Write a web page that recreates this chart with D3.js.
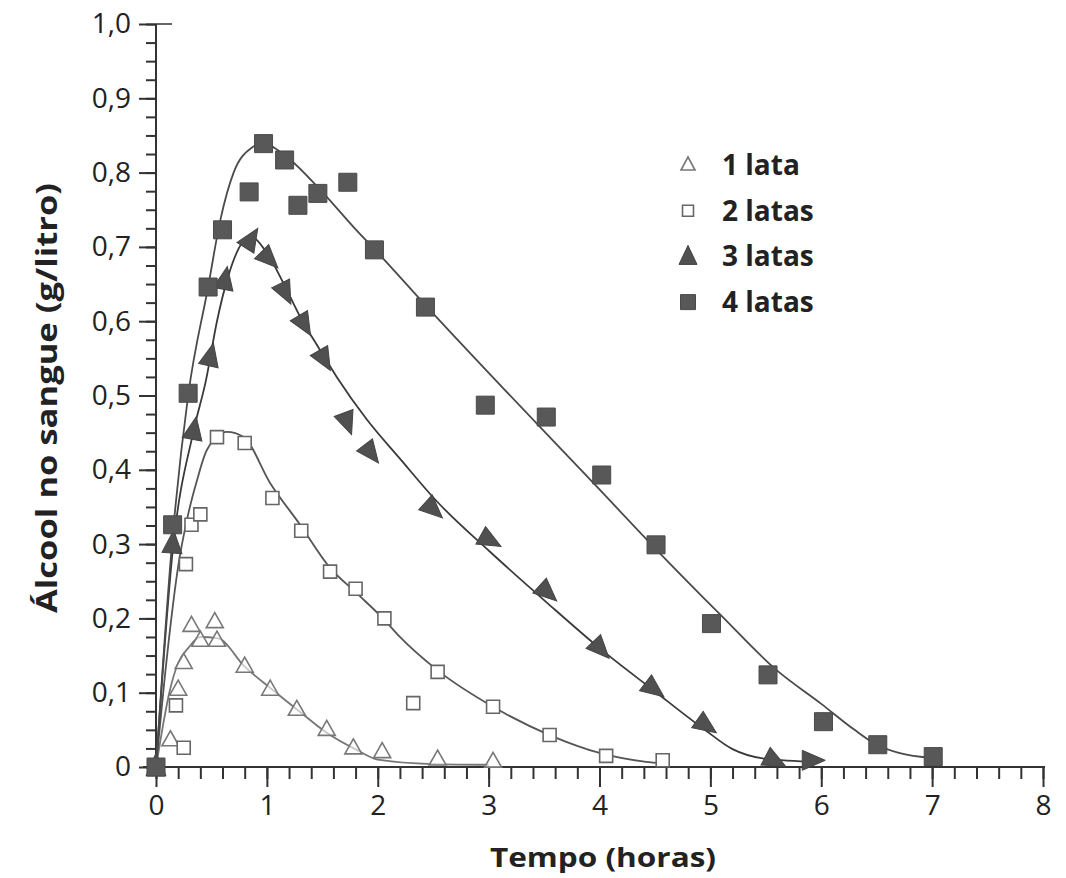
<!DOCTYPE html>
<html>
<head>
<meta charset="utf-8">
<script src="https://cdn.jsdelivr.net/npm/d3@7"></script>
<style>
  body { margin: 0; background: #fff; }
  svg text { font-family: "Open Sans", sans-serif; fill: #222; }
</style>
</head>
<body>
<svg id="grafico"></svg>
<script>
const WIDTH = 1066,
    HEIGHT = 878;

// pontos medidos [horas, g/litro]
const lata1Pontos = [[0,0],[0.13,0.036],[0.2,0.104],[0.25,0.14],[0.32,0.19],[0.4,0.17],[0.53,0.195],[0.55,0.17],[0.8,0.135],[1.03,0.104],[1.27,0.077],[1.54,0.05],[1.78,0.025],[2.04,0.02],[2.54,0.01],[3.04,0.007]];
const lata2Pontos = [[0,0],[0.25,0.026],[0.18,0.083],[0.27,0.273],[0.32,0.326],[0.4,0.34],[0.55,0.444],[0.8,0.436],[1.05,0.362],[1.31,0.318],[1.57,0.263],[1.8,0.24],[2.06,0.2],[2.32,0.086],[2.54,0.128],[3.04,0.081],[3.55,0.043],[4.06,0.015],[4.57,0.009]];
const lata3Pontos = [[0,0],[0.15,0.30],[0.34,0.453],[0.49,0.552],[0.62,0.655],[0.85,0.709],[1.01,0.685],[1.16,0.64],[1.33,0.597],[1.51,0.55],[1.72,0.465],[1.93,0.424],[2.49,0.348],[3.0,0.306],[3.52,0.236],[4.0,0.16],[4.48,0.106],[4.95,0.057],[5.57,0.009],[5.91,0.009]];
const lata4Pontos = [[0,0],[0.15,0.326],[0.29,0.503],[0.47,0.646],[0.6,0.723],[0.84,0.774],[0.97,0.839],[1.16,0.817],[1.28,0.756],[1.46,0.772],[1.73,0.787],[1.97,0.696],[2.43,0.619],[2.97,0.487],[3.52,0.471],[4.02,0.393],[4.51,0.299],[5.01,0.193],[5.52,0.124],[6.02,0.061],[6.51,0.03],[7.01,0.014]];

// curvas ajustadas
const lata1Curva = [[0,0],[0.05,0.045],[0.12,0.1],[0.2,0.14],[0.29,0.16],[0.4,0.175],[0.56,0.173],[0.8,0.135],[1.05,0.104],[1.3,0.074],[1.54,0.046],[1.81,0.023],[2.0,0.01],[2.5,0.004],[3.0,0.003]];
const lata2Curva = [[0,0],[0.1,0.15],[0.2,0.27],[0.29,0.34],[0.37,0.386],[0.46,0.427],[0.64,0.451],[0.79,0.444],[1.03,0.382],[1.3,0.326],[1.57,0.268],[1.81,0.234],[2.06,0.198],[2.2,0.175],[2.54,0.13],[3.04,0.081],[3.55,0.043],[4.0,0.019],[4.42,0.007],[4.57,0.005]];
const lata3Curva = [[0,0],[0.15,0.29],[0.34,0.453],[0.45,0.52],[0.55,0.6],[0.65,0.66],[0.85,0.714],[1.0,0.692],[1.15,0.651],[1.3,0.606],[1.48,0.561],[1.63,0.525],[1.9,0.468],[2.2,0.415],[2.53,0.358],[3.01,0.29],[3.52,0.222],[4.0,0.16],[4.48,0.104],[4.95,0.05],[5.2,0.024],[5.5,0.011],[5.96,0.007]];
const lata4Curva = [[0,0],[0.15,0.31],[0.29,0.5],[0.47,0.646],[0.58,0.736],[0.7,0.8],[0.86,0.833],[0.97,0.839],[1.18,0.821],[1.48,0.777],[1.78,0.727],[2.02,0.689],[2.44,0.62],[3.13,0.51],[3.94,0.383],[4.51,0.293],[5.09,0.205],[5.6,0.13],[6.0,0.085],[6.3,0.05],[6.5,0.03],[6.7,0.019],[7.01,0.012]];

const legendas = ["1 lata", "2 latas", "3 latas", "4 latas"];
const ticksX = [0, 1, 2, 3, 4, 5, 6, 7, 8];
const ticksY = [0, 0.1, 0.2, 0.3, 0.4, 0.5, 0.6, 0.7, 0.8, 0.9, 1.0];

const svg = d3.select("#grafico")
    .attr("width", WIDTH)
    .attr("height", HEIGHT);

const escalaX = d3.scaleLinear().domain([0, 8]).range([156, 1043]);
const escalaY = d3.scaleLinear().domain([0, 1]).range([767, 24]);

const corEixo = "#333";

// eixo X
const ejeXMenor = svg.append("g")
    .attr("transform", `translate(0 ${escalaY(0)})`)
    .call(d3.axisBottom(escalaX).tickValues(d3.range(0, 8.01, 0.2)).tickSize(12).tickFormat(""));
ejeXMenor.select(".domain").remove();

const ejeX = svg.append("g")
    .attr("transform", `translate(0 ${escalaY(0)})`)
    .call(d3.axisBottom(escalaX).tickValues(ticksX).tickSize(20).tickPadding(8).tickFormat(d3.format("d")));
ejeX.select(".domain").remove();
ejeX.selectAll("text").attr("font-size", 28).attr("font-family", "Open Sans");

svg.append("line")
    .attr("x1", 143).attr("x2", escalaX(8) + 2)
    .attr("y1", escalaY(0)).attr("y2", escalaY(0))
    .attr("stroke", corEixo).attr("stroke-width", 2);

// eixo Y
const ejeYMenor = svg.append("g")
    .attr("transform", `translate(${escalaX(0)} 0)`)
    .call(d3.axisLeft(escalaY).tickValues(d3.range(0, 1.001, 0.025)).tickSize(10).tickFormat(""));
ejeYMenor.select(".domain").remove();

const ejeY = svg.append("g")
    .attr("transform", `translate(${escalaX(0)} 0)`)
    .call(d3.axisLeft(escalaY).tickValues(ticksY).tickSize(17).tickPadding(8)
        .tickFormat(d => d === 0 ? "0" : d.toFixed(1).replace(".", ",")));
ejeY.select(".domain").remove();
ejeY.selectAll("text").attr("font-size", 28).attr("font-family", "Open Sans");

svg.append("line")
    .attr("x1", escalaX(0)).attr("x2", escalaX(0))
    .attr("y1", escalaY(0)).attr("y2", escalaY(1))
    .attr("stroke", corEixo).attr("stroke-width", 2);
svg.append("line")
    .attr("x1", escalaX(0)).attr("x2", escalaX(0) + 16)
    .attr("y1", escalaY(1)).attr("y2", escalaY(1))
    .attr("stroke", corEixo).attr("stroke-width", 1.5);

svg.selectAll(".tick line").attr("stroke", corEixo).attr("stroke-width", 2);

// titulos
svg.append("text")
    .attr("x", 603).attr("y", 867)
    .attr("text-anchor", "middle")
    .attr("font-size", 27).attr("font-weight", "bold")
    .attr("textLength", 226).attr("lengthAdjust", "spacingAndGlyphs")
    .text("Tempo (horas)");

svg.append("text")
    .attr("transform", "translate(57 398) rotate(-90)")
    .attr("text-anchor", "middle")
    .attr("font-size", 29).attr("font-weight", "bold")
    .attr("textLength", 430).attr("lengthAdjust", "spacingAndGlyphs")
    .text("Álcool no sangue (g/litro)");

// curvas
const linha = d3.line()
    .x(d => escalaX(d[0]))
    .y(d => escalaY(d[1]))
    .curve(d3.curveMonotoneX);

const contenedorCurvas = svg.append("g").attr("fill", "none");
[[lata1Curva, "#777"], [lata2Curva, "#555"], [lata3Curva, "#3a3a3a"], [lata4Curva, "#4a4a4a"]]
    .forEach(([curva, cor]) => {
        contenedorCurvas.append("path")
            .attr("d", linha(curva))
            .attr("stroke", cor)
            .attr("stroke-width", 1.8);
    });

// simbolos
const trianguloAberto = "M0,-9.5L8.5,5.5L-8.5,5.5Z";
const trianguloCheio = "M14,0L-9,-10L-9,10Z";
const quadrado = s => `M${-s/2},${-s/2}h${s}v${s}h${-s}Z`;

const contenedorPuntos = svg.append("g");

contenedorPuntos.selectAll(".l1")
    .data(lata1Pontos)
    .join("path")
    .attr("class", "l1")
    .attr("d", trianguloAberto)
    .attr("transform", d => `translate(${escalaX(d[0])} ${escalaY(d[1])})`)
    .attr("fill", "#fff")
    .attr("fill-opacity", 0.6)
    .attr("stroke", "#777")
    .attr("stroke-width", 1.6);

contenedorPuntos.selectAll(".l2")
    .data(lata2Pontos)
    .join("path")
    .attr("class", "l2")
    .attr("d", quadrado(13))
    .attr("transform", d => `translate(${escalaX(d[0])} ${escalaY(d[1])})`)
    .attr("fill", "#fff")
    .attr("stroke", "#666")
    .attr("stroke-width", 1.6);

// triangulos cheios orientados segundo o ponto anterior
const angulo = (d, i) => {
    if (i === 0) return -90;
    const p = lata3Pontos[i - 1];
    const dx = escalaX(d[0]) - escalaX(p[0]);
    const dy = escalaY(d[1]) - escalaY(p[1]);
    return Math.atan2(dy, dx) * 180 / Math.PI;
};

contenedorPuntos.selectAll(".l3")
    .data(lata3Pontos)
    .join("path")
    .attr("class", "l3")
    .attr("d", trianguloCheio)
    .attr("transform", (d, i) => `translate(${escalaX(d[0])} ${escalaY(d[1])}) rotate(${angulo(d, i)})`)
    .attr("fill", "#505050")
    .attr("stroke", "#444")
    .attr("stroke-width", 1);

contenedorPuntos.selectAll(".l4")
    .data(lata4Pontos)
    .join("path")
    .attr("class", "l4")
    .attr("d", quadrado(18))
    .attr("transform", d => `translate(${escalaX(d[0])} ${escalaY(d[1])})`)
    .attr("fill", "#585858")
    .attr("stroke", "#4a4a4a")
    .attr("stroke-width", 1);

// legenda
const legenda = svg.append("g");
const simbolosLegenda = [
    {d: "M0,-8L7,5L-7,5Z", fill: "#fff", stroke: "#777", sw: 1.6},
    {d: quadrado(11), fill: "#fff", stroke: "#666", sw: 1.6},
    {d: "M0,-11L9,8L-9,8Z", fill: "#505050", stroke: "#444", sw: 1},
    {d: quadrado(15), fill: "#585858", stroke: "#4a4a4a", sw: 1}
];

legendas.forEach((t, i) => {
    const y = 165 + i * 45.7;
    const s = simbolosLegenda[i];
    legenda.append("path")
        .attr("d", s.d)
        .attr("transform", `translate(688 ${y})`)
        .attr("fill", s.fill)
        .attr("stroke", s.stroke)
        .attr("stroke-width", s.sw);
    legenda.append("text")
        .attr("x", 722).attr("y", y + 10)
        .attr("font-size", 28).attr("font-weight", "bold")
        .text(t);
});
</script>
</body>
</html>
